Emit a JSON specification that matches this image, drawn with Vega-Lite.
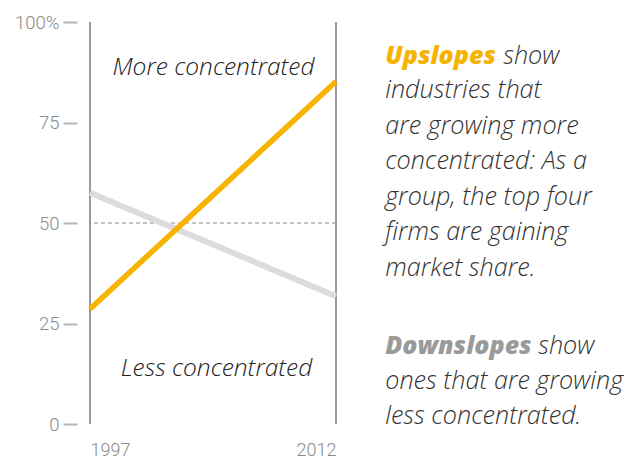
{
  "$schema": "https://vega.github.io/schema/vega-lite/v6.json",
  "width": 246,
  "height": 402,
  "autosize": "none",
  "padding": {"left": 90, "top": 22, "right": 295, "bottom": 39},
  "background": "white",
  "config": {"view": {"stroke": null}},
  "datasets": {
    "lines": [
      {"series": "down", "year": 1997, "share": 57.5},
      {"series": "down", "year": 2012, "share": 31.8},
      {"series": "up", "year": 1997, "share": 28.6},
      {"series": "up", "year": 2012, "share": 85.2}
    ],
    "edges": [{"year": 1997}, {"year": 2012}],
    "one": [{}]
  },
  "layer": [
    {
      "data": {"name": "edges"},
      "mark": {"type": "rule", "color": "#9a9a9a", "strokeWidth": 2},
      "encoding": {
        "x": {"field": "year", "type": "quantitative", "scale": {"domain": [1997, 2012], "nice": false, "zero": false},
          "axis": {"values": [1997, 2012], "format": "d", "labelFlush": true, "ticks": false, "domain": false, "grid": false,
            "labelFont": "Roboto", "labelFontSize": 18, "labelFontWeight": 300, "labelColor": "#8a8a8a", "labelPadding": 17, "title": null}},
        "y": {"datum": 0, "type": "quantitative", "scale": {"domain": [0, 100], "nice": false},
          "axis": {"values": [0, 25, 50, 75, 100], "labelExpr": "datum.value == 100 ? '100%' : datum.label", "domain": false, "grid": false,
            "offset": 13, "tickSize": 14, "tickColor": "#b5b5b5", "tickWidth": 2, "labelFont": "Roboto", "labelFontSize": 18.5, "labelFontWeight": 300,
            "labelColor": "#8a8a8a", "labelPadding": 4, "title": null}},
        "y2": {"datum": 100}
      }
    },
    {
      "data": {"name": "one"},
      "mark": {"type": "rule", "color": "#888888", "strokeWidth": 1, "strokeDash": [4, 3]},
      "encoding": {"y": {"datum": 50, "type": "quantitative"}}
    },
    {
      "data": {"name": "lines"},
      "mark": {"type": "line", "strokeCap": "butt"},
      "encoding": {
        "x": {"field": "year", "type": "quantitative"},
        "y": {"field": "share", "type": "quantitative"},
        "detail": {"field": "series"},
        "order": {"field": "year"},
        "color": {"field": "series", "type": "nominal", "scale": {"domain": ["down", "up"], "range": ["#dcdcdc", "#f6b300"]}, "legend": null},
        "strokeWidth": {"field": "series", "type": "nominal", "scale": {"domain": ["down", "up"], "range": [6, 5.5]}, "legend": null}
      }
    },
    {
      "data": {"name": "one"},
      "mark": {"type": "text", "text": "More concentrated", "font": "Open Sans", "fontStyle": "italic", "fontSize": 24.5, "fontWeight": 300, "color": "#222222", "align": "center", "baseline": "alphabetic"},
      "encoding": {"x": {"datum": 2004.53, "type": "quantitative"}, "y": {"datum": 86.8, "type": "quantitative"}}
    },
    {
      "data": {"name": "one"},
      "mark": {"type": "text", "text": "Less concentrated", "font": "Open Sans", "fontStyle": "italic", "fontSize": 24.5, "fontWeight": 300, "color": "#222222", "align": "center", "baseline": "alphabetic"},
      "encoding": {"x": {"datum": 2004.71, "type": "quantitative"}, "y": {"datum": 11.94, "type": "quantitative"}}
    },
    {
      "data": {"name": "one"},
      "mark": {"type": "text", "text": "Upslopes", "font": "Open Sans", "fontStyle": "italic", "fontWeight": 800, "fontSize": 25, "color": "#f6b300", "align": "left", "baseline": "alphabetic"},
      "encoding": {"x": {"datum": 2015.0, "type": "quantitative"}, "y": {"datum": 89.6, "type": "quantitative"}}
    },
    {
      "data": {"name": "one"},
      "mark": {"type": "text", "text": "show", "dx": 118, "font": "Open Sans", "fontStyle": "italic", "fontSize": 25.2, "fontWeight": 300, "color": "#333333", "align": "left", "baseline": "alphabetic"},
      "encoding": {"x": {"datum": 2015.0, "type": "quantitative"}, "y": {"datum": 89.6, "type": "quantitative"}}
    },
    {
      "data": {"name": "one"},
      "mark": {"type": "text", "text": ["industries that", "are growing more", "concentrated: As a", "group, the top four", "firms are gaining", "market share."], "lineHeight": 35.5, "font": "Open Sans", "fontStyle": "italic", "fontSize": 25.2, "fontWeight": 300, "color": "#333333", "align": "left", "baseline": "alphabetic"},
      "encoding": {"x": {"datum": 2015.0, "type": "quantitative"}, "y": {"datum": 81.0, "type": "quantitative"}}
    },
    {
      "data": {"name": "one"},
      "mark": {"type": "text", "text": "Downslopes", "font": "Open Sans", "fontStyle": "italic", "fontWeight": 800, "fontSize": 25, "color": "#9a9a9a", "align": "left", "baseline": "alphabetic"},
      "encoding": {"x": {"datum": 2015.0, "type": "quantitative"}, "y": {"datum": 17.4, "type": "quantitative"}}
    },
    {
      "data": {"name": "one"},
      "mark": {"type": "text", "text": "show", "dx": 153, "font": "Open Sans", "fontStyle": "italic", "fontSize": 25.2, "fontWeight": 300, "color": "#333333", "align": "left", "baseline": "alphabetic"},
      "encoding": {"x": {"datum": 2015.0, "type": "quantitative"}, "y": {"datum": 17.4, "type": "quantitative"}}
    },
    {
      "data": {"name": "one"},
      "mark": {"type": "text", "text": ["ones that are growing", "less concentrated."], "lineHeight": 35, "font": "Open Sans", "fontStyle": "italic", "fontSize": 25.2, "fontWeight": 300, "color": "#333333", "align": "left", "baseline": "alphabetic"},
      "encoding": {"x": {"datum": 2015.0, "type": "quantitative"}, "y": {"datum": 8.7, "type": "quantitative"}}
    }
  ]
}
